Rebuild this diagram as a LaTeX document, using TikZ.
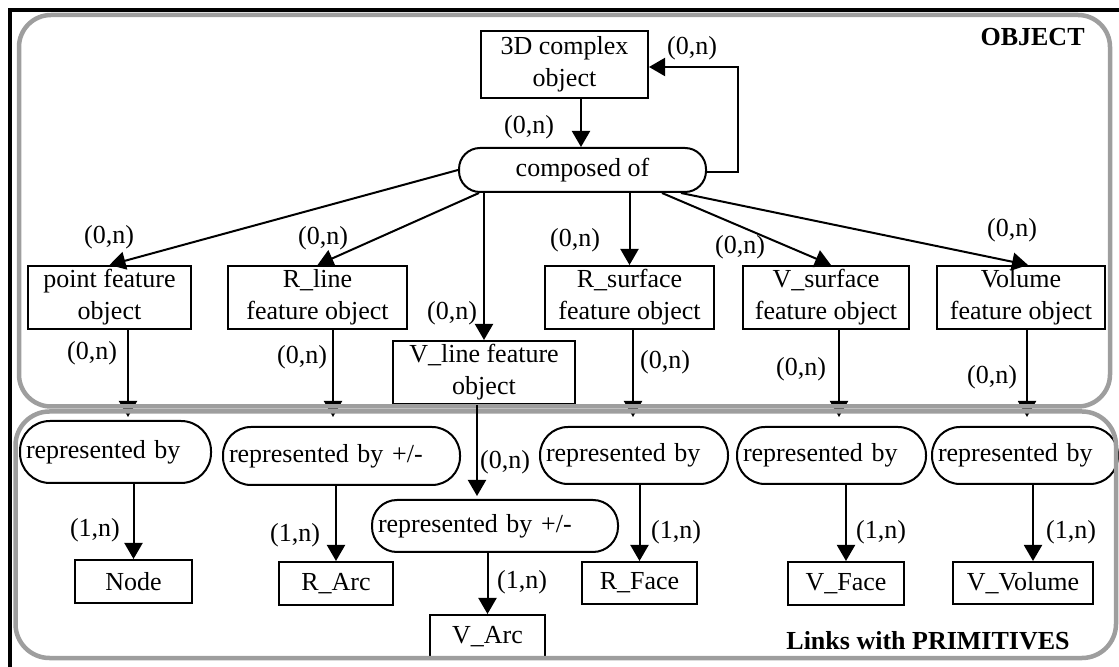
\documentclass[tikz,border=0pt]{standalone}
\usepackage{fontspec}
\setmainfont{Liberation Serif}
\usetikzlibrary{arrows.meta, positioning}

\begin{document}
\begin{tikzpicture}
[x=0.5pt, y=-0.5pt,
font=\fontsize{13}{16}\selectfont,
block_obj/.style ={rectangle, draw, line width=1pt, fill=white, align=center, inner sep=0pt, minimum height=31.5pt},
block_rel/.style ={rectangle, draw, line width=1pt, fill=white, rounded corners=14pt, align=left, inner xsep=3pt, inner ysep=0pt, minimum height=28.5pt},
block_prim/.style ={block_obj, minimum height=21.5pt},
card/.style ={inner sep=0pt},
title/.style ={inner sep=0pt, font=\fontsize{13}{16}\selectfont\bfseries},
line_inner/.style ={draw, line width=1pt, -{Triangle[length=8pt,width=9pt]}},
frame_gray/.style ={draw=black!38, line width=2.25pt}]

\useasboundingbox (0,0) rectangle (1119,667);

% row 1
\node [block_obj, minimum width=83.5pt, minimum height=33.5pt] (c3d) at (564.5,64.5) {3D complex\\object};
\node [block_rel, align=center, rounded corners=10.5pt, minimum width=123.5pt, minimum height=22pt] (comp) at (582.5,170) {composed of};

% row 2
\node [block_obj, minimum width=81.5pt] (pfo) at (109.5,297.5) {point feature\\object};
\node [block_obj, minimum width=89.5pt] (rlo) at (317.5,297.5) {R\_line\\feature object};
\node [block_obj, minimum width=91pt] (vlo) at (484,372.5) {V\_line feature\\object};
\node [block_obj, minimum width=84.5pt] (rso) at (629.5,297.5) {R\_surface\\feature object};
\node [block_obj, minimum width=83pt] (vso) at (826,297.5) {V\_surface\\feature object};
\node [block_obj, minimum width=84pt] (vfo) at (1021,297.5) {Volume\\feature object};

% row 3
\node [block_rel, text width=89.5pt, minimum height=31pt, rounded corners=15pt] (rp) at (115.5,452) {represented by};
\node [block_rel, text width=112.5pt, minimum height=29pt] (rr) at (341.5,456) {represented by +/-};
\node [block_rel, text width=117pt, minimum height=26pt, rounded corners=12.5pt] (rv) at (495,526) {represented by +/-};
\node [block_rel, text width=88pt] (rs) at (634,455.5) {represented by};
\node [block_rel, text width=88.5pt] (rvs) at (831.5,455.5) {represented by};
\node [block_rel, text width=87pt] (rvo) at (1025,455.5) {represented by};

% row 4
\node [block_prim, minimum width=58.5pt] (nd) at (133.5,581.5) {Node};
\node [block_prim, minimum width=57pt] (rarc) at (336,583.5) {R\_Arc};
\node [block_prim, minimum width=57.5pt] (varc) at (487.5,636.5) {V\_Arc};
\node [block_prim, minimum width=57.5pt, minimum height=21pt] (rface) at (639.5,583) {R\_Face};
\node [block_prim, minimum width=58pt] (vface) at (846,583.5) {V\_Face};
\node [block_prim, minimum width=70pt, minimum height=21pt] (vvol) at (1023,583) {V\_Volume};

% cardinalities
\node [card] (k_c3d) at (529,127) {(0,n)};
\node [card] (k_loop) at (692,48) {(0,n)};
\node [card] (k_pfo) at (109,237) {(0,n)};
\node [card] (k_rlo) at (323,238) {(0,n)};
\node [card] (k_vlo) at (452,313) {(0,n)};
\node [card] (k_rso) at (575,240) {(0,n)};
\node [card] (k_vso) at (740,247) {(0,n)};
\node [card] (k_vfo) at (1012,230) {(0,n)};
\node [card] (k_rp) at (92,353) {(0,n)};
\node [card] (k_rr) at (302,357) {(0,n)};
\node [card] (k_rs) at (665,362) {(0,n)};
\node [card] (k_rvs) at (801,369) {(0,n)};
\node [card] (k_rvo) at (992,377) {(0,n)};
\node [card] (k_rv) at (505,462) {(0,n)};
\node [card] (k_nd) at (95,530) {(1,n)};
\node [card] (k_rarc) at (295,535) {(1,n)};
\node [card] (k_varc) at (522,582) {(1,n)};
\node [card] (k_rface) at (676,532) {(1,n)};
\node [card] (k_vface) at (881,532) {(1,n)};
\node [card] (k_vvol) at (1071,532) {(1,n)};

\node [title, anchor=east] (lbl_obj) at (1085,37) {OBJECT};
\node [title, anchor=east] (lbl_prim) at (1070,641) {Links with PRIMITIVES};

%%Arrows%%%
\draw [line_inner]([xshift=8.25pt]c3d.south) to ([xshift=-0.75pt]comp.north);
\draw [line_inner]([yshift=-1pt]comp.east) -- ++(31,0) |- ([yshift=-1.25pt]c3d.east);
\draw [line_inner](comp.west) to (pfo.north);
\draw [line_inner]([xshift=-51.75pt]comp.south) to (rlo.north);
\draw [line_inner](comp.south -| vlo.north) to (vlo.north);
\draw [line_inner](comp.south -| rso.north) to (rso.north);
\draw [line_inner]([xshift=39.75pt]comp.south) to ([xshift=2.5pt]vso.north);
\draw [line_inner]([xshift=49.25pt]comp.south) to ([xshift=3.5pt]vfo.north);

\draw [line_inner, shorten >=1.5pt]([xshift=9.25pt]pfo.south) to ([xshift=6.25pt]rp.north);
\draw [line_inner, shorten >=4.5pt]([xshift=7.75pt]rlo.south) to ([xshift=-4.25pt]rr.north);
\draw [line_inner, shorten >=4.5pt]([xshift=1.75pt]rso.south) to ([xshift=-0.5pt]rs.north);
\draw [line_inner, shorten >=4.5pt]([xshift=6.5pt]vso.south) to ([xshift=3.75pt]rvs.north);
\draw [line_inner, shorten >=4.5pt]([xshift=3pt]vfo.south) to ([xshift=1pt]rvo.north);

\draw [line_inner](rp.south -| nd.north) to (nd.north);
\draw [line_inner](rr.south -| rarc.north) to (rarc.north);
\draw [line_inner](rv.south -| varc.north) to (varc.north);
\draw [line_inner](rs.south -| rface.north) to (rface.north);
\draw [line_inner](rvs.south -| vface.north) to (vface.north);
\draw [line_inner]([xshift=4pt]rvo.south) to ([xshift=5pt]vvol.north);

%%%Background%%%%
\draw [frame_gray, rounded corners=16pt](19,15) rectangle (1110,406.5);
\draw [frame_gray, rounded corners=17pt](15.5,411.5) rectangle (1116,658);
\draw [line width=2pt](10,10) rectangle (1140,690);

\draw [line_inner, shorten >=1.5pt]([xshift=-3.5pt]vlo.south) to ([xshift=-9pt]rv.north);

\end{tikzpicture}
\end{document}
